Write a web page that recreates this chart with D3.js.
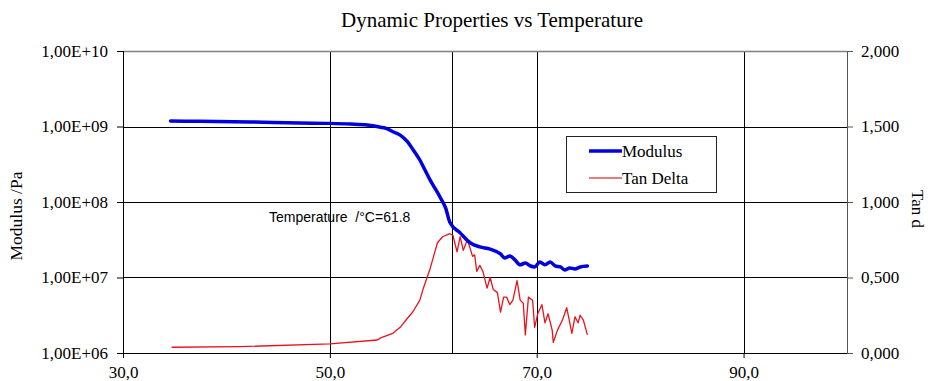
<!DOCTYPE html>
<html lang="en">
<head>
<meta charset="utf-8">
<title>Dynamic Properties vs Temperature</title>
<script src="https://cdnjs.cloudflare.com/ajax/libs/d3/7.8.5/d3.min.js"></script>
<style>
  body { margin: 0; background: #fff; }
  svg { display: block; }
  .tick text { font-family: "Liberation Serif", serif; font-size: 17px; fill: #000; }
</style>
</head>
<body>
<script>
var w = 928, h = 381;
var plotL = 123, plotR = 847, plotT = 51, plotB = 353;

// temperature (°C) and storage modulus (Pa)
var modTemp = [34.6, 37.4, 42.3, 47.1, 50.0, 52.0, 53.6, 54.9, 55.5, 56.1, 56.8, 57.5, 58.0, 58.7, 59.2, 59.7, 60.2, 60.7, 61.2, 61.6, 62.6, 63.6,
               64.5, 65.5, 66.5, 66.9, 67.4, 67.9, 68.4, 68.9, 69.4, 69.8, 70.3, 70.8, 71.3, 71.8, 72.3, 72.7, 73.2, 73.7, 74.2, 74.9];
var modulus = [1.18e9, 1.17e9, 1.15e9, 1.11e9, 1.10e9, 1.08e9, 1.05e9, 9.8e8, 9.4e8, 8.53e8, 7.7e8, 6.3e8, 5.04e8, 3.6e8, 2.65e8, 1.95e8, 1.49e8, 1.13e8, 8.3e7, 5.4e7, 3.9e7, 2.86e7,
               2.54e7, 2.38e7, 2.05e7, 1.81e7, 1.93e7, 1.71e7, 1.47e7, 1.56e7, 1.42e7, 1.38e7, 1.60e7, 1.47e7, 1.60e7, 1.42e7, 1.38e7, 1.26e7, 1.34e7, 1.30e7, 1.38e7, 1.42e7];

// temperature (°C) and tan delta
var tanTemp = [34.7, 41.3, 50.0, 54.6, 54.9, 56.1, 56.8, 57.5, 58.0, 58.7, 59.0, 59.7, 60.4, 60.9, 61.6, 61.9, 62.3, 62.6, 62.9, 63.3,
               63.8, 64.0, 64.2, 64.5, 64.8, 65.2, 65.5, 65.8, 66.2, 66.5, 66.8, 67.1, 67.4, 67.7, 68.1, 68.4, 68.7, 68.9, 69.2, 69.6,
               69.8, 70.1, 70.5, 70.8, 71.1, 71.5, 71.6, 72.0, 72.5, 72.9, 73.4, 73.7, 74.0, 74.2, 74.5, 74.9];
var tanDelta = [0.038, 0.042, 0.060, 0.086, 0.10, 0.13, 0.17, 0.23, 0.27, 0.35, 0.42, 0.56, 0.73, 0.77, 0.79, 0.78, 0.67, 0.77, 0.68, 0.75,
                0.64, 0.65, 0.54, 0.58, 0.54, 0.43, 0.50, 0.42, 0.40, 0.27, 0.37, 0.37, 0.32, 0.35, 0.48, 0.35, 0.33, 0.12, 0.37, 0.35,
                0.17, 0.26, 0.32, 0.20, 0.26, 0.15, 0.07, 0.15, 0.22, 0.30, 0.13, 0.24, 0.20, 0.25, 0.22, 0.12];

var xTicks = [30, 50, 70, 90];
var xTickLabels = ["30,0", "50,0", "70,0", "90,0"];
var yTicks = [1e6, 1e7, 1e8, 1e9, 1e10];
var yTickLabels = ["1,00E+06", "1,00E+07", "1,00E+08", "1,00E+09", "1,00E+10"];
var y2Ticks = [0, 0.5, 1, 1.5, 2];
var y2TickLabels = ["0,000", "0,500", "1,000", "1,500", "2,000"];
var markTemp = 61.8;

var x = d3.scaleLinear().domain([30, 100]).range([plotL, plotR]);
var y = d3.scaleLog().domain([1e6, 1e10]).range([plotB, plotT]);
var y2 = d3.scaleLinear().domain([0, 2]).range([plotB, plotT]);

var svg = d3.select("body").append("svg")
    .attr("width", w)
    .attr("height", h);

// grid
svg.append("g").selectAll("line")
   .data(yTicks.slice(1, 4))
   .enter().append("line")
   .attr("x1", plotL).attr("x2", plotR)
   .attr("y1", function(d) { return Math.round(y(d)) + 0.5; })
   .attr("y2", function(d) { return Math.round(y(d)) + 0.5; })
   .attr("stroke", "#000").attr("stroke-width", 1);

svg.append("g").selectAll("line")
   .data(xTicks.slice(1).concat([markTemp]))
   .enter().append("line")
   .attr("x1", function(d) { return Math.round(x(d)) + 0.5; })
   .attr("x2", function(d) { return Math.round(x(d)) + 0.5; })
   .attr("y1", plotT).attr("y2", plotB)
   .attr("stroke", "#000").attr("stroke-width", 1);

svg.append("line")
   .attr("x1", plotL).attr("x2", plotR)
   .attr("y1", plotT + 0.5).attr("y2", plotT + 0.5)
   .attr("stroke", "#808080").attr("stroke-width", 1.5);

// axes
var xAxis = svg.append("g")
   .attr("transform", "translate(0," + plotB + ")")
   .call(d3.axisBottom(x).tickValues(xTicks).tickSize(5)
        .tickFormat(function(d, i) { return xTickLabels[i]; }));
xAxis.select(".domain").attr("d", "M" + plotL + ",0.5H" + plotR);
xAxis.selectAll("text").attr("dy", "1.0em");

var yAxis = svg.append("g")
   .attr("transform", "translate(" + plotL + ",0)")
   .call(d3.axisLeft(y).tickValues(yTicks).tickSize(6)
        .tickFormat(function(d, i) { return yTickLabels[i]; }));
yAxis.select(".domain").attr("d", "M0.5," + plotT + "V" + plotB);
yAxis.selectAll("text").attr("x", -15);

var y2Axis = svg.append("g")
   .attr("transform", "translate(" + plotR + ",0)")
   .call(d3.axisRight(y2).tickValues(y2Ticks).tickSize(6)
        .tickFormat(function(d, i) { return y2TickLabels[i]; }));
y2Axis.select(".domain").attr("d", "M0.5," + plotT + "V" + plotB).attr("stroke", "#555");
y2Axis.selectAll(".tick line").attr("stroke", "#555");
y2Axis.selectAll("text").attr("x", 14);

// curves
var tanLine = d3.line()
   .x(function(d, i) { return x(tanTemp[i]); })
   .y(function(d) { return y2(d); });
svg.append("path")
   .attr("d", tanLine(tanDelta))
   .attr("fill", "none").attr("stroke", "#e8141c").attr("stroke-width", 1.3)
   .attr("stroke-linejoin", "round");

var modLine = d3.line()
   .curve(d3.curveMonotoneX)
   .x(function(d, i) { return x(modTemp[i]); })
   .y(function(d) { return y(d); });
svg.append("path")
   .attr("d", modLine(modulus))
   .attr("fill", "none").attr("stroke", "#0000e0").attr("stroke-width", 3.5)
   .attr("stroke-linejoin", "round").attr("stroke-linecap", "round");

// title and axis titles
svg.append("text")
   .attr("x", 492).attr("y", 27)
   .attr("text-anchor", "middle")
   .attr("font-family", "Liberation Serif, serif")
   .attr("font-size", "21px")
   .text("Dynamic Properties vs Temperature");

svg.append("text")
   .attr("transform", "translate(22,216) rotate(-90)")
   .attr("text-anchor", "middle")
   .attr("font-family", "Liberation Serif, serif")
   .attr("font-size", "17.5px")
   .text("Modulus /Pa");

svg.append("text")
   .attr("transform", "translate(912,209) rotate(90)")
   .attr("text-anchor", "middle")
   .attr("font-family", "Liberation Serif, serif")
   .attr("font-size", "17px")
   .text("Tan d");

svg.append("text")
   .attr("x", 269).attr("y", 222)
   .attr("font-family", "Liberation Sans, Arial, sans-serif")
   .attr("font-size", "14px")
   .style("white-space", "pre")
   .text("Temperature  /°C=" + String(markTemp));

// legend
var lg = svg.append("g");
lg.append("rect")
  .attr("x", 566.5).attr("y", 136.5).attr("width", 150).attr("height", 56)
  .attr("fill", "#fff").attr("stroke", "#222").attr("stroke-width", 1);
lg.append("line").attr("x1", 589).attr("x2", 622).attr("y1", 151).attr("y2", 151)
  .attr("stroke", "#0000e0").attr("stroke-width", 3.5);
lg.append("line").attr("x1", 589).attr("x2", 622).attr("y1", 178).attr("y2", 178)
  .attr("stroke", "#e05050").attr("stroke-width", 1.3);
lg.append("text").attr("x", 622).attr("y", 157)
  .attr("font-family", "Liberation Serif, serif").attr("font-size", "17px")
  .text("Modulus");
lg.append("text").attr("x", 622).attr("y", 184)
  .attr("font-family", "Liberation Serif, serif").attr("font-size", "17px")
  .text("Tan Delta");
</script>
</body>
</html>
